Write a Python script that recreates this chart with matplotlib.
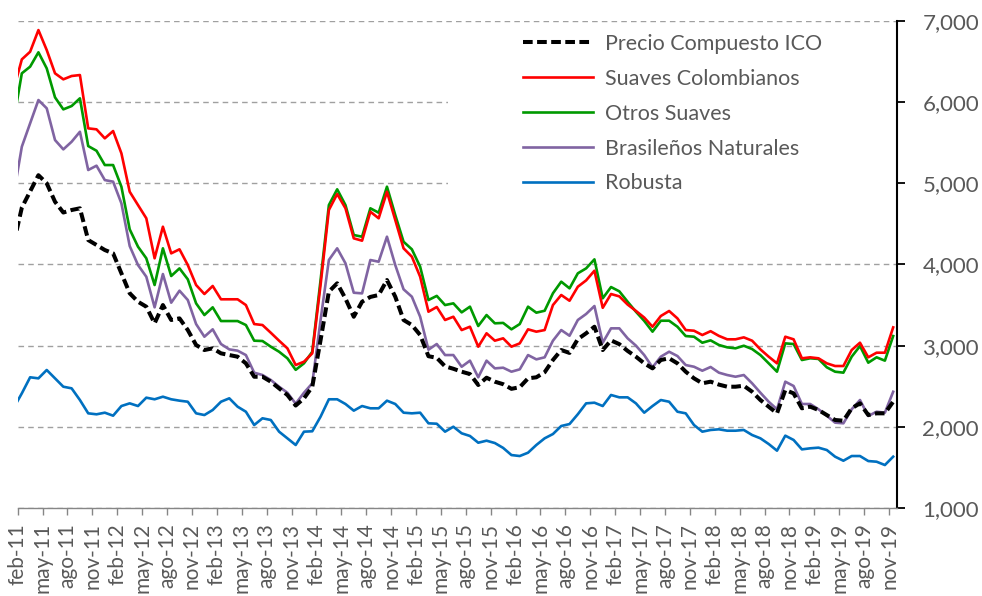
import matplotlib
matplotlib.use("Agg")
import matplotlib.pyplot as plt
from matplotlib.patches import Rectangle
from matplotlib.ticker import FuncFormatter

plt.rcParams['font.family'] = ['Lato', 'DejaVu Sans']

# Spanish month abbreviations, data runs ene-11 .. nov-19
meses = ['ene', 'feb', 'mar', 'abr', 'may', 'jun', 'jul', 'ago', 'sep', 'oct', 'nov', 'dic']
anios = ['11', '12', '13', '14', '15', '16', '17', '18', '19']
fechas = [f"{m}-{a}" for a in anios for m in meses][:107]

# Prices (US$/tonelada)
compuesto = [4250, 4700, 4900, 5100, 5000, 4773, 4640, 4671, 4692, 4301,
             4240, 4178, 4137, 3891, 3645, 3541, 3480, 3275, 3500, 3316,
             3336, 3192, 3008, 2946, 2967, 2905, 2884, 2864, 2782, 2617,
             2617, 2556, 2474, 2392, 2262, 2351, 2494, 3069, 3665, 3768,
             3580, 3356, 3541, 3600, 3624, 3808, 3603, 3316, 3254, 3131,
             2870, 2850, 2745, 2715, 2679, 2650, 2515, 2605, 2556, 2525,
             2468, 2488, 2597, 2610, 2672, 2823, 2946, 2910, 3080, 3152,
             3233, 2946, 3065, 3018, 2935, 2864, 2782, 2720, 2823, 2844,
             2782, 2679, 2597, 2536, 2556, 2520, 2494, 2494, 2506, 2432,
             2330, 2248, 2166, 2453, 2412, 2228, 2248, 2207, 2145, 2084,
             2075, 2228, 2289, 2145, 2166, 2166, 2309]

colombianos = [6150, 6527, 6621, 6888, 6642, 6355, 6281, 6322, 6334, 5677,
               5665, 5554, 5644, 5369, 4896, 4732, 4569, 4076, 4465, 4137,
               4187, 3993, 3747, 3636, 3735, 3571, 3571, 3571, 3500, 3266,
               3254, 3159, 3061, 2967, 2761, 2802, 2905, 3750, 4671, 4868,
               4692, 4322, 4293, 4650, 4569, 4896, 4548, 4199, 4096, 3849,
               3418, 3476, 3316, 3356, 3192, 3233, 2987, 3152, 3061, 3090,
               2987, 3028, 3201, 3172, 3192, 3500, 3624, 3553, 3726, 3804,
               3923, 3466, 3636, 3607, 3506, 3428, 3346, 3233, 3365, 3427,
               3336, 3192, 3184, 3131, 3178, 3120, 3078, 3078, 3102, 3061,
               2954, 2864, 2782, 3110, 3078, 2844, 2856, 2844, 2782, 2749,
               2749, 2946, 3036, 2856, 2913, 2913, 3225]

otros_suaves = [5760, 6355, 6437, 6614, 6416, 6059, 5911, 5952, 6047, 5459,
                5401, 5225, 5225, 4958, 4433, 4219, 4076, 3747, 4199, 3858,
                3952, 3817, 3521, 3377, 3472, 3303, 3303, 3303, 3254, 3061,
                3057, 2987, 2925, 2844, 2702, 2782, 2925, 3808, 4732, 4926,
                4732, 4363, 4342, 4692, 4638, 4958, 4609, 4280, 4187, 3972,
                3562, 3613, 3500, 3521, 3410, 3480, 3242, 3377, 3275, 3280,
                3201, 3266, 3480, 3406, 3430, 3645, 3788, 3706, 3891, 3952,
                4063, 3583, 3722, 3669, 3541, 3418, 3305, 3172, 3307, 3307,
                3233, 3118, 3110, 3036, 3065, 3008, 2979, 2967, 2999, 2958,
                2884, 2782, 2679, 3028, 3020, 2823, 2844, 2836, 2733, 2679,
                2667, 2864, 2995, 2790, 2856, 2815, 3118]

brasilenos = [4850, 5451, 5739, 6026, 5924, 5533, 5418, 5512, 5635, 5164,
              5217, 5040, 5020, 4753, 4227, 3993, 3849, 3472, 3882, 3529,
              3677, 3562, 3266, 3110, 3201, 3020, 2954, 2938, 2884, 2667,
              2638, 2577, 2494, 2420, 2285, 2420, 2536, 3316, 4055, 4199,
              4014, 3652, 3644, 4055, 4034, 4342, 3993, 3694, 3603, 3356,
              2950, 3020, 2884, 2884, 2740, 2815, 2610, 2815, 2720, 2728,
              2679, 2708, 2884, 2831, 2856, 3061, 3192, 3122, 3316, 3390,
              3488, 3036, 3213, 3213, 3090, 3000, 2884, 2733, 2864, 2925,
              2872, 2761, 2740, 2691, 2737, 2667, 2638, 2617, 2638, 2536,
              2420, 2309, 2216, 2556, 2503, 2281, 2281, 2216, 2137, 2051,
              2043, 2216, 2330, 2133, 2186, 2174, 2432]

robusta = [2230, 2412, 2610, 2597, 2700, 2597, 2494, 2474, 2330, 2166,
           2154, 2174, 2137, 2256, 2289, 2256, 2359, 2339, 2371, 2339,
           2322, 2309, 2166, 2145, 2207, 2309, 2351, 2248, 2186, 2022,
           2105, 2084, 1940, 1858, 1776, 1940, 1945, 2125, 2339, 2339,
           2281, 2199, 2256, 2228, 2228, 2322, 2281, 2174, 2166, 2174,
           2043, 2038, 1940, 2001, 1920, 1887, 1804, 1829, 1800, 1740,
           1652, 1640, 1681, 1776, 1858, 1911, 2010, 2034, 2155, 2289,
           2297, 2256, 2392, 2363, 2363, 2289, 2174, 2256, 2330, 2309,
           2186, 2166, 2022, 1940, 1961, 1969, 1952, 1952, 1961, 1899,
           1858, 1788, 1706, 1891, 1838, 1722, 1735, 1743, 1714, 1632,
           1582, 1640, 1640, 1578, 1570, 1529, 1632]

texto_gris = '#595959'
x = list(range(len(fechas)))

fig = plt.figure(figsize=(9.82, 5.96), dpi=100)
ax = fig.add_axes([0.018, 0.1477, 0.8951, 0.8171])

# Series
ax.plot(x, robusta, color='#0070C0', lw=1.9, label='Robusta', zorder=3)
ax.plot(x, brasilenos, color='#8064A2', lw=1.9, label='Brasileños Naturales', zorder=3)
ax.plot(x, otros_suaves, color='#009900', lw=1.9, label='Otros Suaves', zorder=3)
ax.plot(x, colombianos, color='#FF0000', lw=1.9, label='Suaves Colombianos', zorder=3)
ax.plot(x, compuesto, color='black', lw=2.9, ls=(0, (2.4, 1.1)),
        label='Precio Compuesto ICO', zorder=4)

ax.set_xlim(0.5, 106.42)
ax.set_ylim(1000, 7000)

# Horizontal dashed grid
ax.yaxis.grid(True, color='#A0A0A0', lw=1.0, ls=(0, (4, 3)))
ax.set_axisbelow(True)

# Right value axis
ax.yaxis.tick_right()
ax.set_yticks([1000, 2000, 3000, 4000, 5000, 6000, 7000])
ax.yaxis.set_major_formatter(FuncFormatter(lambda v, p: f"{int(v):,}"))
ax.tick_params(axis='y', direction='out', length=5.5, width=1.3, color='black',
               labelsize=16, labelcolor=texto_gris, pad=13)

# Bottom date axis, ticks between monthly points
ticks = [k - 0.5 for k in range(1, len(fechas), 3)]
ax.set_xticks(ticks)
ax.set_xticklabels([fechas[k] for k in range(1, len(fechas), 3)], rotation=90)
ax.tick_params(axis='x', direction='out', length=5, width=1.0, color='#868686',
               labelsize=15, labelcolor=texto_gris, pad=6)

for lado in ['left', 'top']:
    ax.spines[lado].set_visible(False)
ax.spines['right'].set_color('black')
ax.spines['right'].set_linewidth(1.5)
ax.spines['bottom'].set_color('#868686')
ax.spines['bottom'].set_linewidth(1.0)

# White legend area hides the grid behind it
ax.add_patch(Rectangle((0.4895, 0.632), 0.5105, 0.36, transform=ax.transAxes,
                       facecolor='white', edgecolor='none', zorder=1))

handles, labels = ax.get_legend_handles_labels()
orden = [4, 3, 2, 1, 0]
leg = ax.legend([handles[i] for i in orden], [labels[i] for i in orden],
                loc='upper left', bbox_to_anchor=(523 / 982, 1 - 34 / 596),
                bbox_transform=fig.transFigure, frameon=False, fontsize=15.5,
                handlelength=3.25, handletextpad=0.56, labelspacing=0.69,
                borderpad=0, borderaxespad=0)
for t in leg.get_texts():
    t.set_color(texto_gris)

fig.savefig('out.png', dpi=100)
